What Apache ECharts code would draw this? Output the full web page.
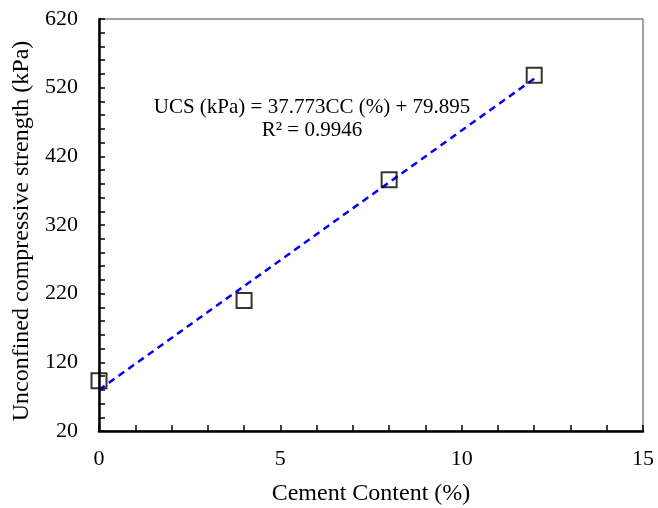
<!DOCTYPE html>
<html>
<head>
<meta charset="utf-8">
<script src="https://cdn.jsdelivr.net/npm/echarts@6/dist/echarts.min.js"></script>
<style>
    html, body { margin: 0; padding: 0; background: #fff; }
    #main { width: 658px; height: 508px; }
</style>
</head>
<body>
<div id="main"></div>
<script>
    // 数据
    var cementContent = [0, 4, 8, 12];
    var ucsValues = [93, 210, 386, 538];
    // 线性拟合 UCS = a*CC + b
    var fitSlope = 37.773;
    var fitIntercept = 79.895;
    var fitRange = [0, 12];
    var eqText = 'UCS (kPa) = 37.773CC (%) + 79.895';
    var r2Text = 'R² = 0.9946';

    var pts = [];
    for (var i = 0; i < cementContent.length; i++) {
        pts.push([cementContent[i], ucsValues[i]]);
    }
    var fitLine = [];
    for (var j = 0; j < fitRange.length; j++) {
        fitLine.push([fitRange[j], fitSlope * fitRange[j] + fitIntercept]);
    }

    var font = '"Liberation Serif", "Times New Roman", serif';
    var myChart = echarts.init(document.getElementById('main'));

    var option = {
        animation: false,
        backgroundColor: '#fff',
        textStyle: { fontFamily: font, color: '#000' },
        grid: {
            left: 99, top: 19, width: 544, height: 412,
            outerBoundsMode: 'none',
            containLabel: false,
            show: true, borderColor: '#444', borderWidth: 1
        },
        xAxis: {
            type: 'value',
            min: 0, max: 15, interval: 5,
            name: 'Cement Content (%)',
            nameLocation: 'middle',
            nameGap: 51,
            nameTextStyle: { fontFamily: font, fontSize: 24, color: '#000' },
            axisLine: { show: true, onZero: false, lineStyle: { color: '#000', width: 2.5 } },
            axisTick: { show: true, inside: true, length: 6, lineStyle: { color: '#000', width: 1.5 } },
            minorTick: { show: true, splitNumber: 5, length: 6, lineStyle: { color: '#000', width: 1.5 } },
            axisLabel: { fontFamily: font, fontSize: 22, color: '#000', margin: 17 },
            splitLine: { show: false }
        },
        yAxis: {
            type: 'value',
            min: 20, max: 620, interval: 100,
            name: 'Unconfined compressive strength (kPa)',
            nameLocation: 'middle',
            nameGap: 64,
            nameTextStyle: { fontFamily: font, fontSize: 24, color: '#000', padding: [0, 12, 0, 0] },
            axisLine: { show: true, onZero: false, lineStyle: { color: '#000', width: 2.5 } },
            axisTick: { show: true, inside: true, length: 6, lineStyle: { color: '#000', width: 1.5 } },
            minorTick: { show: true, splitNumber: 5, length: 6, lineStyle: { color: '#000', width: 1.5 } },
            axisLabel: { fontFamily: font, fontSize: 22, color: '#000', margin: 21 },
            splitLine: { show: false }
        },
        graphic: [
            {
                type: 'text',
                x: 312, y: 96,
                style: {
                    text: eqText + '\n' + r2Text,
                    align: 'center',
                    verticalAlign: 'top',
                    font: '21px ' + font,
                    lineHeight: 23,
                    fill: '#000'
                }
            }
        ],
        series: [
            {
                name: 'Linear fit',
                type: 'line',
                data: fitLine,
                symbol: 'none',
                lineStyle: { color: '#0000ff', width: 2.5, type: [7, 5] },
                z: 2
            },
            {
                name: 'UCS',
                type: 'scatter',
                data: pts,
                symbol: 'rect',
                symbolSize: 15,
                itemStyle: { color: 'rgba(255,255,255,0)', borderColor: '#000', borderWidth: 2 },
                z: 3
            }
        ]
    };
    myChart.setOption(option);
</script>
</body>
</html>
